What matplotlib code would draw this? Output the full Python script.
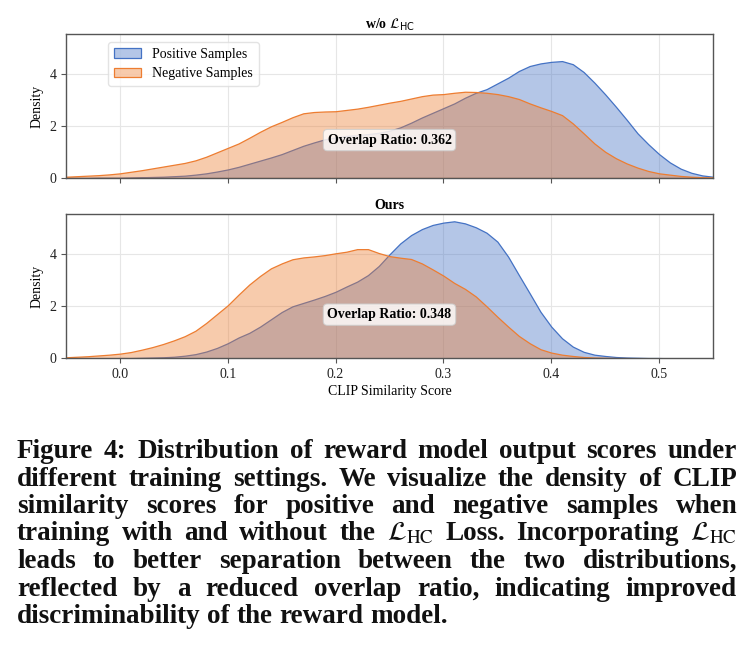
import matplotlib
matplotlib.use("Agg")
import matplotlib.pyplot as plt
import numpy as np
from matplotlib.colors import to_rgba

# ---------------- data ----------------
score_grid = np.round(np.arange(-5, 56) / 100, 2)   # CLIP similarity score sample points

pos_wo = [0.00, 0.00, 0.00, 0.01, 0.01, 0.01, 0.02, 0.03, 0.04, 0.05,
          0.07, 0.09, 0.13, 0.18, 0.25, 0.33, 0.43, 0.55, 0.67, 0.79,
          0.92, 1.08, 1.24, 1.37, 1.49, 1.56, 1.62, 1.65, 1.69, 1.74,
          1.82, 1.95, 2.13, 2.33, 2.51, 2.69, 2.87, 3.09, 3.28, 3.42,
          3.64, 3.86, 4.12, 4.31, 4.41, 4.47, 4.50, 4.38, 4.08, 3.67,
          3.22, 2.74, 2.24, 1.72, 1.30, 0.92, 0.60, 0.36, 0.20, 0.10,
          0.05]
neg_wo = [0.05, 0.07, 0.09, 0.11, 0.14, 0.18, 0.24, 0.30, 0.37, 0.44,
          0.51, 0.58, 0.68, 0.82, 0.99, 1.16, 1.33, 1.55, 1.78, 1.99,
          2.16, 2.34, 2.49, 2.54, 2.56, 2.57, 2.62, 2.67, 2.74, 2.82,
          2.90, 2.97, 3.06, 3.15, 3.21, 3.23, 3.28, 3.32, 3.31, 3.28,
          3.23, 3.15, 3.04, 2.87, 2.72, 2.58, 2.42, 2.10, 1.72, 1.33,
          1.01, 0.76, 0.56, 0.40, 0.27, 0.18, 0.13, 0.08, 0.05, 0.03,
          0.02]
pos_ours = [0.00, 0.00, 0.00, 0.00, 0.00, 0.01, 0.01, 0.02, 0.03, 0.04,
            0.06, 0.10, 0.16, 0.26, 0.40, 0.58, 0.80, 0.98, 1.22, 1.50,
            1.78, 2.00, 2.13, 2.26, 2.40, 2.56, 2.76, 2.95, 3.20, 3.55,
            4.00, 4.42, 4.74, 4.97, 5.13, 5.22, 5.27, 5.19, 5.04, 4.83,
            4.49, 3.91, 3.20, 2.50, 1.79, 1.22, 0.77, 0.45, 0.25, 0.14,
            0.09, 0.05, 0.03, 0.02, 0.01, 0.01, 0.00, 0.00, 0.00, 0.00,
            0.00]
neg_ours = [0.04, 0.06, 0.08, 0.11, 0.14, 0.18, 0.24, 0.33, 0.43, 0.55,
            0.69, 0.85, 1.06, 1.36, 1.70, 2.04, 2.45, 2.84, 3.17, 3.46,
            3.65, 3.81, 3.88, 3.92, 3.97, 4.04, 4.10, 4.20, 4.20, 4.05,
            3.93, 3.87, 3.82, 3.65, 3.42, 3.18, 2.90, 2.67, 2.38, 2.00,
            1.60, 1.22, 0.86, 0.58, 0.35, 0.22, 0.14, 0.09, 0.05, 0.03,
            0.02, 0.01, 0.01, 0.00, 0.00, 0.00, 0.00, 0.00, 0.00, 0.00,
            0.00]

panel_titles = [r"w/o $\mathcal{L}_{\mathrm{HC}}$", "Ours"]
overlap_ratios = [0.362, 0.348]
overlap_label_y = [1.46, 1.68]
series_labels = ["Positive Samples", "Negative Samples"]
x_ticks = [0.0, 0.1, 0.2, 0.3, 0.4, 0.5]
y_ticks = [0, 2, 4]

caption_lines = [
    "Figure 4: Distribution of reward model output scores under",
    "different training settings. We visualize the density of CLIP",
    "similarity scores for positive and negative samples when",
    r"training with and without the $\mathcal{L}_{\mathrm{HC}}$ Loss. Incorporating $\mathcal{L}_{\mathrm{HC}}$",
    "leads to better separation between the two distributions,",
    "reflected by a reduced overlap ratio, indicating improved",
    "discriminability of the reward model.",
]

# ---------------- style ----------------
POS_C = "#4472C4"
NEG_C = "#ED7D31"
SERIF = ["Liberation Serif", "DejaVu Serif"]
plt.rcParams["font.family"] = SERIF
plt.rcParams["font.size"] = 10

W_PX, H_PX = 755, 669
fig = plt.figure(figsize=(W_PX / 100, H_PX / 100), dpi=100)
ax1 = fig.add_axes([0.0874, 0.7339, 0.857, 0.2152])
ax2 = fig.add_axes([0.0874, 0.4644, 0.857, 0.2153], sharex=ax1, sharey=ax1)

panels = [(ax1, pos_wo, neg_wo), (ax2, pos_ours, neg_ours)]
for i, (ax, pos, neg) in enumerate(panels):
    ax.set_axisbelow(True)
    ax.grid(True, color="#e6e6e6", linewidth=0.8)
    ax.fill_between(score_grid, pos, facecolor=to_rgba(POS_C, 0.4),
                    edgecolor=POS_C, linewidth=0.9, label=series_labels[0])
    ax.fill_between(score_grid, neg, facecolor=to_rgba(NEG_C, 0.4),
                    edgecolor=NEG_C, linewidth=0.9, label=series_labels[1])
    ax.set_title(panel_titles[i], fontweight="bold", fontsize=10, pad=4)
    ax.set_ylabel("Density", fontsize=10, labelpad=4)
    ax.text(0.25, overlap_label_y[i], f"Overlap Ratio: {overlap_ratios[i]:.3f}",
            ha="center", va="center", fontsize=10, fontweight="bold",
            bbox=dict(boxstyle="round,pad=0.3", facecolor="white",
                      alpha=0.8, edgecolor="#cccccc", linewidth=0.8))
    for s in ax.spines.values():
        s.set_color("#555555")
        s.set_linewidth(1.0)
    ax.tick_params(axis="both", colors="#555555", labelcolor="#222222",
                   labelsize=10, length=3.5, width=0.8)

ax1.set_xlim(-0.05, 0.55)
ax1.set_ylim(0, 5.54)
ax1.set_xticks(x_ticks)
ax1.set_yticks(y_ticks)
ax1.tick_params(axis="x", labelbottom=False)
ax2.set_xticklabels([f"{t:.1f}" for t in x_ticks])
ax2.set_xlabel("CLIP Similarity Score", fontsize=10, labelpad=3)

leg = ax1.legend(loc="upper left", bbox_to_anchor=(0.065, 0.945),
                 borderaxespad=0, fontsize=10, frameon=True, framealpha=0.8,
                 edgecolor="#dddddd", fancybox=True)

# ---------------- caption (justified) ----------------
renderer = fig.canvas.get_renderer()
CAP_LEFT, CAP_RIGHT = 17, 737
CAP_BASE0, CAP_DY = 458, 27.5
CAP_FS = 19.5
for i, line in enumerate(caption_lines):
    y = 1 - (CAP_BASE0 + i * CAP_DY) / H_PX
    words = line.split(" ")
    texts = [fig.text(0, y, w, fontsize=CAP_FS, fontweight="bold",
                      family=SERIF, math_fontfamily="stix",
                      va="baseline", ha="left", color="#111111")
             for w in words]
    widths = [t.get_window_extent(renderer).width for t in texts]
    sp = fig.text(0, 0, "a a", fontsize=CAP_FS, fontweight="bold", family=SERIF)
    sp2 = fig.text(0, 0, "aa", fontsize=CAP_FS, fontweight="bold", family=SERIF)
    space_w = sp.get_window_extent(renderer).width - sp2.get_window_extent(renderer).width
    sp.remove(); sp2.remove()
    if i < len(caption_lines) - 1:
        gap = (CAP_RIGHT - CAP_LEFT - sum(widths)) / (len(words) - 1)
        gap = max(gap, 0.6 * space_w)
    else:
        gap = space_w
    x = CAP_LEFT
    for t, w in zip(texts, widths):
        t.set_x(x / W_PX)
        x += w + gap

fig.savefig("out.png", dpi=100)
